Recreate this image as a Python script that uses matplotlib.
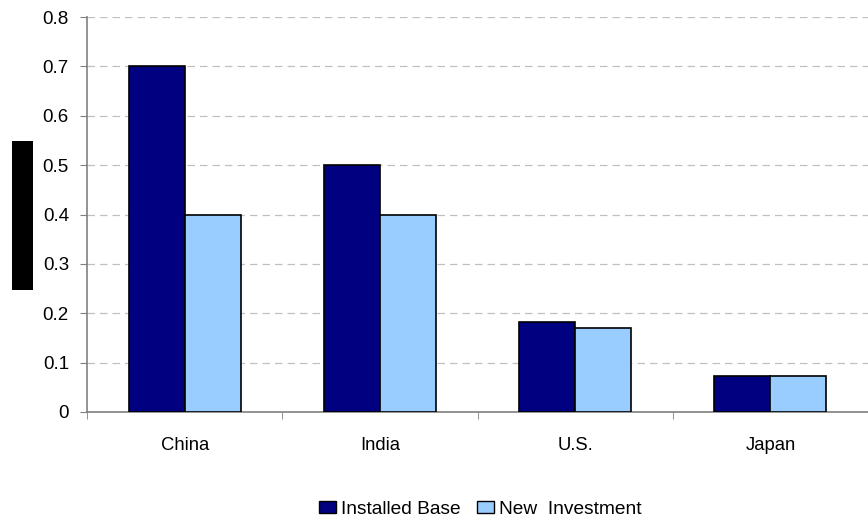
import matplotlib
matplotlib.use("Agg")
import matplotlib.pyplot as plt
import numpy as np
from matplotlib.patches import Rectangle, Patch

categories = ["China", "India", "U.S.", "Japan"]
installed_base = [0.70, 0.50, 0.183, 0.072]
new_investment = [0.40, 0.40, 0.170, 0.072]
yticks = [0, 0.1, 0.2, 0.3, 0.4, 0.5, 0.6, 0.7, 0.8]
ytick_labels = ["0", "0.1", "0.2", "0.3", "0.4", "0.5", "0.6", "0.7", "0.8"]

plt.rcParams['font.family'] = ['Liberation Sans', 'DejaVu Sans']

W, H = 868, 523
fig = plt.figure(figsize=(W/100, H/100), dpi=100)
ax = fig.add_axes([87/W, (H-412)/H, (868-87)/W, (412-17)/H])

x = np.arange(len(categories))
bw = 0.287
c1 = "#000080"
c2 = "#99CCFF"
ax.bar(x - bw/2, installed_base, bw, color=c1, edgecolor="black", linewidth=1.2, zorder=3)
ax.bar(x + bw/2, new_investment, bw, color=c2, edgecolor="black", linewidth=1.2, zorder=3)

ax.set_xlim(-0.5, 3.464)
ax.set_ylim(0, 0.8)
ax.set_yticks(yticks)
ax.set_yticklabels(ytick_labels, fontsize=13.5)
ax.yaxis.grid(True, linestyle=(0, (6, 4)), color="#c0c0c0", linewidth=0.9, zorder=0)

ax.set_xticks(x)
ax.set_xticklabels(categories, fontsize=13.3)
ax.tick_params(axis='x', which='major', length=0, pad=18)
ax.set_xticks(np.arange(-0.5, 4.0, 1.0), minor=True)
ax.tick_params(axis='x', which='minor', length=5, color="#808080", direction='out')
ax.tick_params(axis='y', length=5, color="#808080", direction='out', pad=8)

for s in ["top", "right"]:
    ax.spines[s].set_visible(False)
for s in ["left", "bottom"]:
    ax.spines[s].set_color("#808080")
    ax.spines[s].set_linewidth(1.2)

# redaction box (black rectangle at left)
fig.patches.append(Rectangle((12/W, (H-290)/H), 21/W, 149/H, transform=fig.transFigure,
                             facecolor="black", edgecolor="none"))

handles = [Patch(facecolor=c1, edgecolor="black", label="Installed Base"),
           Patch(facecolor=c2, edgecolor="black", label="New  Investment")]
fig.legend(handles=handles, loc="center", bbox_to_anchor=(480/W, (H-509)/H), ncol=2,
           frameon=False, fontsize=13.8, handlelength=0.9, handleheight=0.6,
           handletextpad=0.25, columnspacing=0.85, borderpad=0.1)

fig.savefig("out.png", dpi=100)
